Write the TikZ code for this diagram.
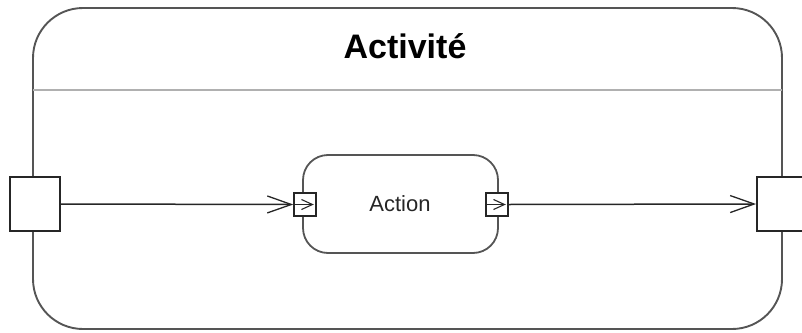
\documentclass[tikz,border=0pt]{standalone}
\usepackage{fontspec}
\setmainfont{Liberation Sans}
\usetikzlibrary{arrows.meta}
\definecolor{frame}{HTML}{555555}
\definecolor{sep}{HTML}{B0B0B0}
\definecolor{ink}{HTML}{262626}
\begin{document}
\begin{tikzpicture}[x=1pt,y=-1pt,
  pinbox/.style={draw=ink,line width=1.8pt,fill=white,minimum width=50pt,minimum height=54pt,inner sep=0pt},
  smallpin/.style={draw=ink,line width=1.6pt,fill=white,minimum width=22pt,minimum height=23pt,inner sep=0pt},
  flow/.style={draw=ink,line width=1.5pt,-{Straight Barb[length=24pt,width=17pt,line width=1.3pt]}},
  pinarrow/.style={draw=ink,line width=1.2pt,-{Straight Barb[length=11pt,width=10pt,line width=1.1pt]}}]
\useasboundingbox (0,0) rectangle (802,332);
\clip (0,0) rectangle (802,332);
% outer activity
\draw[frame,line width=1.9pt,rounded corners=50pt] (33,8) rectangle (782,329);
\coordinate (sepL) at (33,89.5);
\coordinate (sepR) at (782,89.5);
\draw[sep,line width=2pt] (sepL) -- (sepR);
\node[font=\bfseries\fontsize{34}{40}\selectfont,text=black] (title) at (405,46) {Activité};
% action
\node[draw=frame,line width=1.8pt,rounded corners=25pt,minimum width=195pt,minimum height=98pt,inner sep=0pt,fill=white] (action) at (400.5,204) {};
\node[font=\fontsize{22}{26}\selectfont,text=ink] (actlbl) at (400,204) {Action};
% pins
\node[pinbox] (inpin) at (35,204) {};
\node[pinbox] (outpin) at (782,204) {};
\node[smallpin] (ain) at (305,204.5) {};
\node[smallpin] (aout) at (497,204.5) {};
\draw[pinarrow] ([xshift=1pt]ain.west) -- ([xshift=-3pt]ain.east);
\draw[pinarrow] ([xshift=1pt]aout.west) -- ([xshift=-3pt]aout.east);
% flows
\draw[flow] (inpin.east) -- (ain.west);
\draw[flow] (aout.east) -- (outpin.west);
\end{tikzpicture}
\end{document}
